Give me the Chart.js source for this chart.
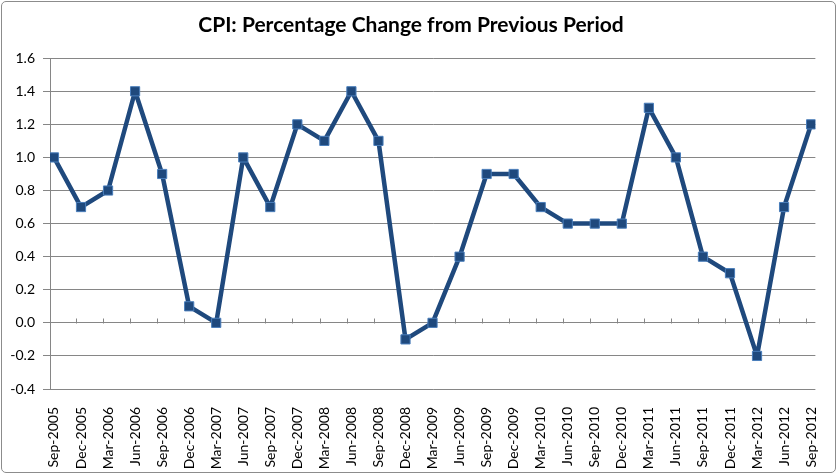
<!DOCTYPE html>
<html>
<head>
<meta charset="utf-8">
<script src="https://cdn.jsdelivr.net/npm/chart.js@4"></script>
<style>
  html, body { margin: 0; padding: 0; background: #fff; }
  #wrap { position: relative; width: 838px; height: 475px; }
  #chart { position: absolute; left: 0; top: 0; }
  #frame { position: absolute; left: 1px; top: 1px; width: 835px; height: 472px; box-sizing: border-box;
           border: 1px solid #8c8c8c; border-radius: 5px; pointer-events: none; }
</style>
</head>
<body>
<div id="wrap">
  <canvas id="chart" width="838" height="475"></canvas>
  <div id="frame"></div>
</div>
<script>
const categories = ["Sep-2005","Dec-2005","Mar-2006","Jun-2006","Sep-2006","Dec-2006","Mar-2007","Jun-2007",
  "Sep-2007","Dec-2007","Mar-2008","Jun-2008","Sep-2008","Dec-2008","Mar-2009","Jun-2009","Sep-2009",
  "Dec-2009","Mar-2010","Jun-2010","Sep-2010","Dec-2010","Mar-2011","Jun-2011","Sep-2011","Dec-2011",
  "Mar-2012","Jun-2012","Sep-2012"];
const cpiChange = [1.0,0.7,0.8,1.4,0.9,0.1,0.0,1.0,0.7,1.2,1.1,1.4,1.1,-0.1,0.0,0.4,0.9,0.9,0.7,0.6,0.6,0.6,
  1.3,1.0,0.4,0.3,-0.2,0.7,1.2];
const yTicks = [-0.4,-0.2,0.0,0.2,0.4,0.6,0.8,1.0,1.2,1.4,1.6];

const gridColor = '#868686';

const zeroTicks = {
  id: 'zeroTicks',
  beforeDatasetsDraw(chart) {
    const xs = chart.scales.x, ys = chart.scales.y, ctx = chart.ctx;
    const y0 = Math.round(ys.getPixelForValue(0)) + 0.5;
    ctx.save();
    ctx.strokeStyle = gridColor;
    ctx.lineWidth = 1;
    ctx.beginPath();
    for (let i = 0; i < categories.length - 1; i++) {
      const x = Math.round(xs.getPixelForValue(i + 0.82)) + 0.5;
      ctx.moveTo(x, y0 - 5);
      ctx.lineTo(x, y0);
    }
    ctx.stroke();
    ctx.restore();
  }
};

new Chart(document.getElementById('chart'), {
  type: 'line',
  data: {
    datasets: [{
      data: cpiChange.map((v, i) => ({ x: i, y: v })),
      borderColor: '#1F497D',
      borderWidth: 4.5,
      borderJoinStyle: 'round',
      pointStyle: 'rect',
      pointRadius: 6.5,
      pointBackgroundColor: '#1F497D',
      pointBorderColor: '#4A7EBB',
      pointBorderWidth: 1,
      tension: 0
    }]
  },
  plugins: [zeroTicks],
  options: {
    responsive: false,
    animation: false,
    events: [],
    layout: { padding: { left: 0, right: 16, top: 0, bottom: 0 } },
    plugins: {
      legend: { display: false },
      tooltip: { enabled: false },
      title: {
        display: true,
        text: 'CPI: Percentage Change from Previous Period',
        color: '#000',
        font: { family: 'Lato', size: 21, weight: 'bold' },
        padding: { top: 13, bottom: 20 }
      }
    },
    scales: {
      x: {
        type: 'linear',
        min: -0.1467,
        max: 28.158,
        afterBuildTicks: axis => { axis.ticks = categories.map((c, i) => ({ value: i })); },
        afterFit: scale => { scale.height = 86; },
        grid: { display: false },
        border: { display: false },
        ticks: {
          autoSkip: false,
          maxRotation: 90,
          minRotation: 90,
          padding: 10,
          color: '#000',
          font: { family: 'Lato', size: 14 },
          callback: v => categories[v]
        }
      },
      y: {
        min: -0.4,
        max: 1.6,
        afterBuildTicks: axis => { axis.ticks = yTicks.map(v => ({ value: v })); },
        afterFit: scale => { scale.width = 50; },
        grid: { color: gridColor, lineWidth: 1, tickLength: 7 },
        border: { color: gridColor, width: 1 },
        ticks: {
          padding: 8,
          color: '#000',
          font: { family: 'Lato', size: 14 },
          callback: v => v.toFixed(1)
        }
      }
    }
  }
});
</script>
</body>
</html>
